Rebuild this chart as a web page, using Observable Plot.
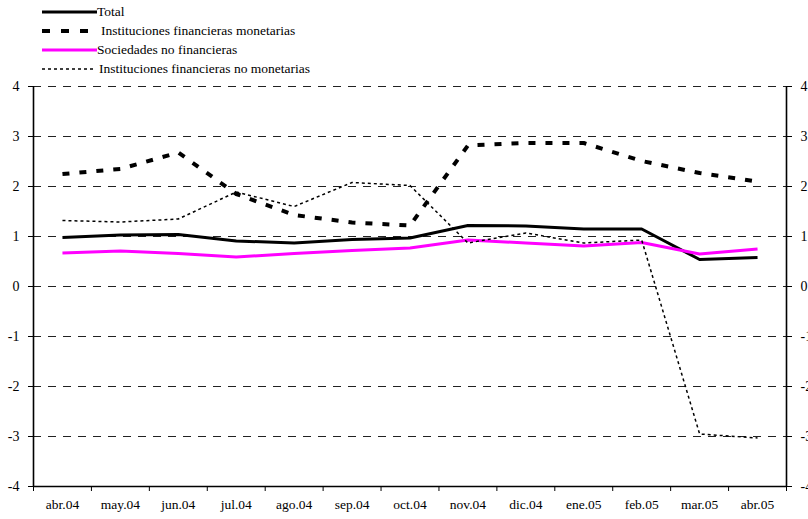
<!DOCTYPE html>
<html>
<head>
<meta charset="utf-8">
<script src="https://cdn.jsdelivr.net/npm/d3@7"></script>
<script src="https://cdn.jsdelivr.net/npm/@observablehq/plot@0.6"></script>
<style>
  html, body { margin: 0; padding: 0; background: #fff; }
  body { width: 808px; height: 519px; overflow: hidden; font-family: 'Liberation Serif', 'DejaVu Serif', serif; }
  #legend { height: 78px; padding-top: 2px; box-sizing: border-box; }
  .row { display: flex; align-items: center; height: 19px; font-size: 13.5px; color: #000; font-family: 'Liberation Serif', 'DejaVu Serif', serif; }
  .row svg { margin-left: 42px; display: block; }
  .row span { white-space: nowrap; }
  #chart svg { display: block; }
  #chart svg text { font-family: 'Liberation Serif', 'DejaVu Serif', serif; }
</style>
</head>
<body>
<div id="legend"></div>
<div id="chart"></div>
<script>
const months = ["abr.04","may.04","jun.04","jul.04","ago.04","sep.04","oct.04","nov.04","dic.04","ene.05","feb.05","mar.05","abr.05"];
const total = [0.98, 1.03, 1.04, 0.91, 0.87, 0.94, 0.97, 1.22, 1.21, 1.15, 1.15, 0.54, 0.58];
const ifm   = [2.25, 2.35, 2.68, 1.85, 1.43, 1.28, 1.22, 2.82, 2.87, 2.87, 2.51, 2.27, 2.10];
const snf   = [0.67, 0.71, 0.66, 0.59, 0.66, 0.72, 0.77, 0.93, 0.87, 0.81, 0.88, 0.65, 0.75];
const ifnm  = [1.32, 1.29, 1.35, 1.89, 1.60, 2.08, 2.02, 0.87, 1.07, 0.87, 0.93, -2.95, -3.03];
const yTicks = [-4, -3, -2, -1, 0, 1, 2, 3, 4];
const seriesNames = ["Total", "Instituciones financieras monetarias", "Sociedades no financieras", "Instituciones financieras no monetarias"];

const styles = [
  {stroke: "#000", width: 3, dash: null},
  {stroke: "#000", width: 4, dash: "7,10"},
  {stroke: "#ff00ff", width: 3, dash: null},
  {stroke: "#000", width: 1.5, dash: "3,3"}
];
const seriesData = [total, ifm, snf, ifnm];

// Legend
const legend = document.getElementById("legend");
seriesNames.forEach((name, k) => {
  const s = styles[k];
  const row = document.createElement("div");
  row.className = "row";
  const swW = 55;
  row.innerHTML = `<svg width="${swW}" height="10"><line x1="0" x2="${k === 1 ? 48 : (k === 3 ? 52 : swW)}" y1="5" y2="5" stroke="${s.stroke}" stroke-width="${s.width}" ${s.dash ? `stroke-dasharray="${k === 1 ? "8,11" : s.dash}"` : ""}/></svg><span style="margin-left:${k === 1 ? 4 : (k === 3 ? 2 : 0)}px">${name}</span>`;
  legend.appendChild(row);
});

const n = months.length;
const xBounds = [0, n];
const idx = d3.range(n);
const boundaries = d3.range(n + 1);
const centers = idx.map(i => i + 0.5);

const lineMarks = seriesData.map((arr, k) => Plot.line(arr, {
  x: (d, i) => i + 0.5,
  y: d => d,
  stroke: styles[k].stroke,
  strokeWidth: styles[k].width,
  strokeDasharray: styles[k].dash,
  strokeLinejoin: "round",
  strokeLinecap: "butt"
}));

const chart = Plot.plot({
  width: 808,
  height: 441,
  marginTop: 8,
  marginBottom: 33,
  marginLeft: 33,
  marginRight: 22,
  style: {fontFamily: "'Liberation Serif', 'DejaVu Serif', serif", fontSize: "14px", color: "#000", background: "#fff"},
  x: {domain: xBounds, axis: null},
  y: {domain: [-4, 4], axis: null},
  marks: [
    Plot.gridY(yTicks.filter(t => t > -4), {stroke: "#222", strokeOpacity: 1, strokeWidth: 1, strokeDasharray: "8,7"}),
    Plot.axisY(yTicks, {anchor: "left", tickSize: 5, tickPadding: 9, tickFormat: d => String(d), stroke: "#000", strokeWidth: 1, fontSize: 14}),
    Plot.axisY(yTicks, {anchor: "right", tickSize: 5, tickPadding: 9, tickFormat: d => String(d), stroke: "#000", strokeWidth: 1, fontSize: 14}),
    Plot.axisX(boundaries, {anchor: "bottom", tickSize: 5, tickFormat: () => "", stroke: "#000", strokeWidth: 1}),
    Plot.axisX(centers, {anchor: "bottom", tickSize: 0, tickPadding: 13, tickFormat: d => months[Math.round(d - 0.5)], fontSize: 13.5}),
    Plot.ruleX(xBounds, {stroke: "#000", strokeWidth: 1.6}),
    Plot.ruleY([-4], {stroke: "#000", strokeWidth: 1.6}),
    ...lineMarks
  ]
});
document.getElementById("chart").appendChild(chart);
</script>
</body>
</html>
